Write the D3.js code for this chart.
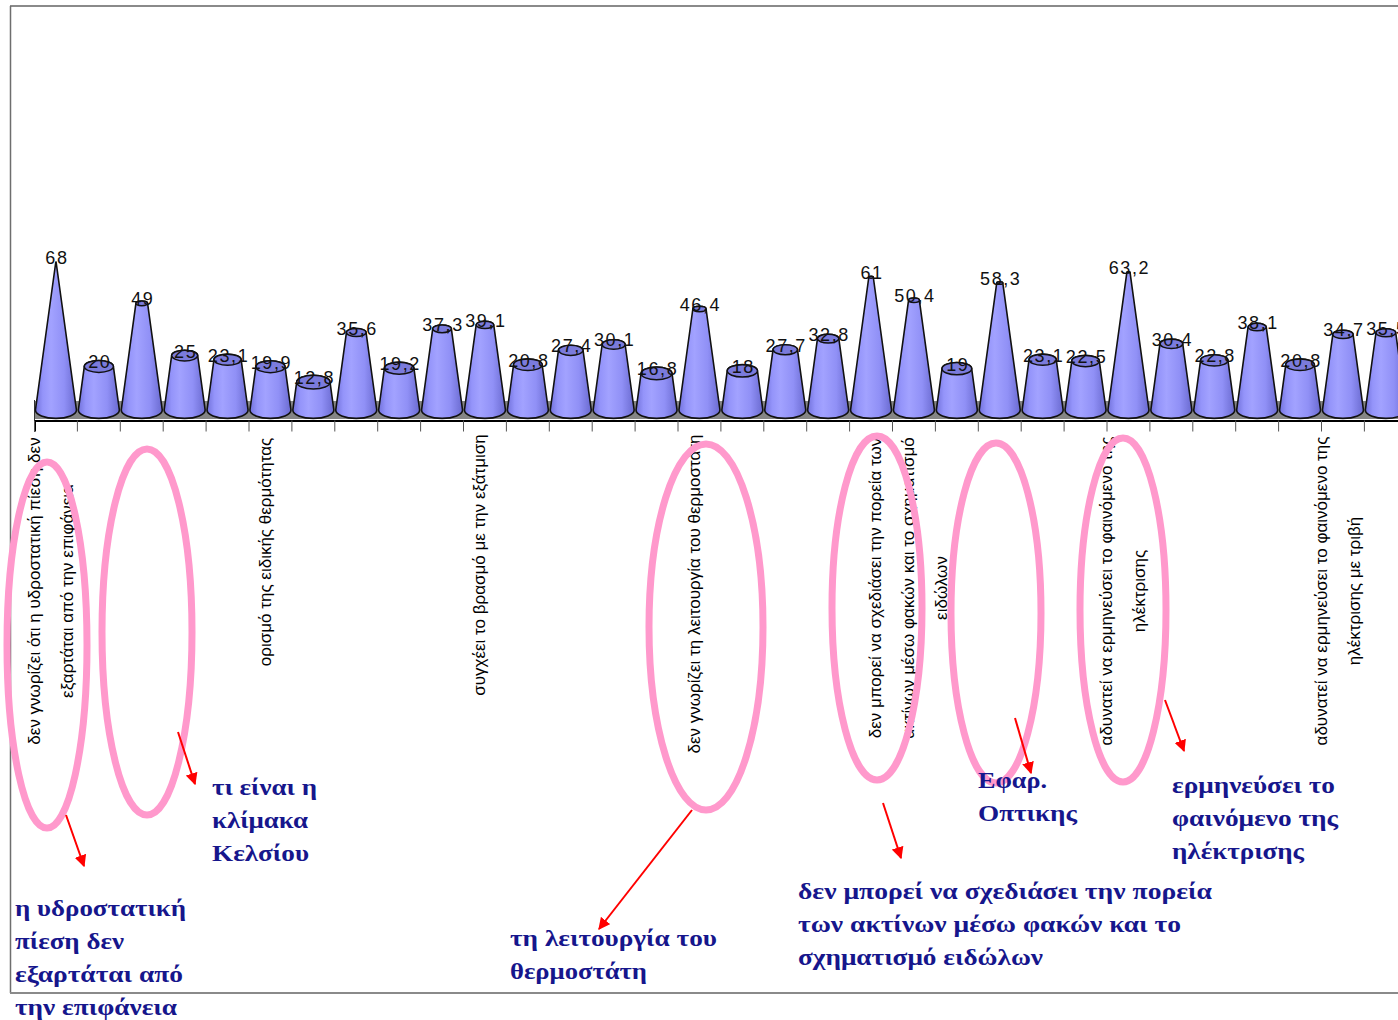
<!DOCTYPE html>
<html>
<head>
<meta charset="utf-8">
<script src="https://cdn.jsdelivr.net/npm/d3@7/dist/d3.min.js"></script>
<style>
  html, body { margin: 0; padding: 0; background: #fff; }
  svg { display: block; }
</style>
</head>
<body>
<svg id="chart" width="1398" height="1020"></svg>
<script>
// Percentages of pupils per misconception item (cone chart)
const items = [1, 2, 3, 4, 5, 6, 7, 8, 9, 10, 11, 12, 13, 14, 15, 16,
               17, 18, 19, 20, 21, 22, 23, 24, 25, 26, 27, 28, 29, 30, 31, 32];
const values = [68, 20, 49, 25, 23.1, 19.9, 12.8, 35.6, 19.2, 37.3, 39.1, 20.8, 27.4, 30.1, 16.8, 46.4,
                18, 27.7, 32.8, 61, 50.4, 19, 58.3, 23.1, 22.5, 63.2, 30.4, 22.8, 38.1, 20.8, 34.7, 35.5];

// Category axis: only every fifth item carries a (wrapped) label
const labelItems = [1, 6, 11, 16, 21, 26, 31];
const labelLines = [
  ["δεν γνωρίζει ότι η υδροστατική πίεση δεν", "εξαρτάται από την επιφάνεια"],
  ["ορισμό της ειδικής θερμότητας"],
  ["συγχέει το βρασμό με την εξάτμιση"],
  ["δεν γνωρίζει τη λειτουργία του θερμοστάτη"],
  ["δεν μπορεί να σχεδιάσει την πορεία των", "ακτίνων μέσω φακών και το σχηματισμό", "ειδώλων"],
  ["αδυνατεί να ερμηνεύσει το φαινόμενο της", "ηλέκτρισης"],
  ["αδυνατεί να ερμηνεύσει το φαινόμενο της", "ηλέκτρισης με τριβή"]
];
const labelCenterY = [591, 552, 565, 594, 588, 591, 591];

// Hand-drawn highlights over the axis labels
const rings = [
  { cx: 47, cy: 645, rx: 40, ry: 183 },
  { cx: 147, cy: 632, rx: 45, ry: 183 },
  { cx: 706, cy: 627, rx: 57, ry: 183 },
  { cx: 877, cy: 608, rx: 45, ry: 172 },
  { cx: 996, cy: 613, rx: 45, ry: 170 },
  { cx: 1123, cy: 610, rx: 43, ry: 172 }
];
const arrows = [
  [66, 815, 84, 866],
  [178, 732, 195, 784],
  [692, 810, 599, 929],
  [883, 803, 901, 858],
  [1015, 718, 1031, 773],
  [1165, 700, 1184, 751]
];
const notes = [
  { x: 212, y: 795, lines: ["τι είναι η", "κλίμακα", "Κελσίου"], widths: [105, 96, 97] },
  { x: 15, y: 916, lines: ["η υδροστατική", "πίεση δεν", "εξαρτάται από", "την επιφάνεια"], widths: [171, 109, 168, 162] },
  { x: 510, y: 946, lines: ["τη λειτουργία του", "θερμοστάτη"], widths: [207, 137] },
  { x: 798, y: 899, lines: ["δεν μπορεί να σχεδιάσει την πορεία", "των ακτίνων μέσω φακών και το", "σχηματισμό ειδώλων"], widths: [414, 383, 245] },
  { x: 978, y: 788, lines: ["Εφαρ.", "Οπτικης"], widths: [69, 99] },
  { x: 1172, y: 793, lines: ["ερμηνεύσει το", "φαινόμενο της", "ηλέκτρισης"], widths: [163, 166, 132] }
];

const svg = d3.select("#chart");
const W = 1398;

// Scales
const x = d3.scaleBand()
  .domain(items)
  .range([34.5, 34.5 + 42.9 * items.length])
  .paddingInner(0).paddingOuter(0);
const y = d3.scaleLinear().domain([0, 68]).range([410, 262]);
const coneApex = 68.5;   // value at which a cone closes to a point
const baseR = 20.5;      // base radius of each cone
const tilt = 0.41;       // ellipse squash of the 3-D view

// Defs: cone shading and arrow head
const defs = svg.append("defs");
const grad = defs.append("linearGradient").attr("id", "coneFill")
  .attr("x1", "0%").attr("x2", "100%").attr("y1", "0%").attr("y2", "0%");
[["0%", "#7272dc"], ["18%", "#9494fa"], ["38%", "#a2a2ff"], ["70%", "#9090f6"], ["100%", "#6a6ad0"]]
  .forEach(([o, c]) => grad.append("stop").attr("offset", o).attr("stop-color", c));
defs.append("marker").attr("id", "head")
  .attr("viewBox", "0 0 10 10").attr("refX", 9).attr("refY", 5)
  .attr("markerWidth", 6).attr("markerHeight", 6)
  .attr("markerUnits", "strokeWidth").attr("orient", "auto")
  .append("path").attr("d", "M0,0 L10,5 L0,10 Z").attr("fill", "#ff0000");
defs.append("clipPath").attr("id", "labelClip")
  .append("rect").attr("x", 0).attr("y", 433).attr("width", W).attr("height", 560);

// Chart frame
svg.append("line").attr("x1", 10).attr("x2", W).attr("y1", 6).attr("y2", 6)
  .attr("stroke", "#8a8a8a").attr("stroke-width", 2);
svg.append("line").attr("x1", 10.5).attr("x2", 10.5).attr("y1", 6).attr("y2", 993)
  .attr("stroke", "#6e6e6e").attr("stroke-width", 1.5);
svg.append("line").attr("x1", 10).attr("x2", W).attr("y1", 993).attr("y2", 993)
  .attr("stroke", "#8a8a8a").attr("stroke-width", 2);

// Floor strip under the cones
const x0 = x.range()[0];
svg.append("path")
  .attr("d", `M${x0},401 L${W},401 L${W},419 L${x0},419 Z`)
  .attr("fill", "#858585");
svg.append("line").attr("x1", x0).attr("x2", x0).attr("y1", 400).attr("y2", 421)
  .attr("stroke", "#333").attr("stroke-width", 1);

// Category axis
const axis = d3.axisBottom(x).tickSize(11).tickFormat("");
const gAxis = svg.append("g").attr("transform", "translate(0,420.5)").call(axis);
gAxis.select(".domain").attr("stroke", "#000").attr("stroke-width", 2);
// ticks sit on category boundaries
gAxis.selectAll(".tick").attr("transform", d => `translate(${x(d)},0)`);
gAxis.selectAll(".tick line").attr("stroke", "#555").attr("stroke-width", 1);
svg.append("line").attr("x1", x0).attr("x2", x0).attr("y1", 421).attr("y2", 432)
  .attr("stroke", "#555");

// Cones
const cones = svg.append("g").selectAll("g.cone")
  .data(items.map((id, i) => ({ id, v: values[i] })))
  .join("g").attr("class", "cone");

cones.each(function (d) {
  const g = d3.select(this);
  const cx = x(d.id) + x.bandwidth() / 2;
  const yb = y(0), yt = y(d.v);
  const R = baseR, Ry = R * tilt;
  const r = Math.max(0, R * (1 - d.v / coneApex)), ry = r * tilt;
  let body = `M${cx - R},${yb} L${cx - r},${yt}`;
  if (r > 0.01) body += ` A${r},${ry} 0 0 1 ${cx + r},${yt}`;
  body += ` L${cx + R},${yb} A${R},${Ry} 0 0 1 ${cx - R},${yb} Z`;
  g.append("path").attr("d", body)
    .attr("fill", "url(#coneFill)").attr("stroke", "#111").attr("stroke-width", 1.6)
    .attr("stroke-linejoin", "round");
  if (r > 0.5) {
    g.append("ellipse").attr("cx", cx).attr("cy", yt).attr("rx", r).attr("ry", ry)
      .attr("fill", "#7b7bdc").attr("stroke", "#111").attr("stroke-width", 1.5);
  }
  g.append("text")
    .attr("x", cx + 1).attr("y", yt - 4)
    .attr("text-anchor", "middle").attr("dominant-baseline", "central")
    .attr("font-family", "'Liberation Sans', Arial, sans-serif")
    .attr("font-size", 18).attr("letter-spacing", 1.6)
    .attr("fill", "#111")
    .text(String(d.v).replace(".", ","));
});

// Rotated category labels
const gLab = svg.append("g").attr("clip-path", "url(#labelClip)");
labelItems.forEach((id, k) => {
  const lines = labelLines[k];
  const cx = x(id) + x.bandwidth() / 2 - 5;
  lines.forEach((t, j) => {
    const lx = cx + (j - (lines.length - 1) / 2) * 33;
    gLab.append("text")
      .attr("transform", `translate(${lx},${labelCenterY[k]}) rotate(-90)`)
      .attr("text-anchor", "middle").attr("dominant-baseline", "central")
      .attr("font-family", "'Liberation Sans', Arial, sans-serif")
      .attr("font-size", 17).attr("fill", "#000")
      .text(t);
  });
});

// Highlight rings
svg.append("g").selectAll("ellipse").data(rings).join("ellipse")
  .attr("cx", d => d.cx).attr("cy", d => d.cy).attr("rx", d => d.rx).attr("ry", d => d.ry)
  .attr("fill", "none").attr("stroke", "#ff99cc").attr("stroke-width", 7);

// Arrows
svg.append("g").selectAll("line").data(arrows).join("line")
  .attr("x1", d => d[0]).attr("y1", d => d[1]).attr("x2", d => d[2]).attr("y2", d => d[3])
  .attr("stroke", "#ff0000").attr("stroke-width", 2).attr("marker-end", "url(#head)");

// Annotation notes
const gNotes = svg.append("g")
  .attr("font-family", "'Liberation Serif', 'Times New Roman', serif")
  .attr("font-weight", "bold").attr("font-size", 23).attr("fill", "#16168c");
notes.forEach(n => {
  n.lines.forEach((t, j) => {
    gNotes.append("text")
      .attr("x", n.x).attr("y", n.y + j * 33)
      .attr("textLength", n.widths[j]).attr("lengthAdjust", "spacingAndGlyphs")
      .text(t);
  });
});
</script>
</body>
</html>
